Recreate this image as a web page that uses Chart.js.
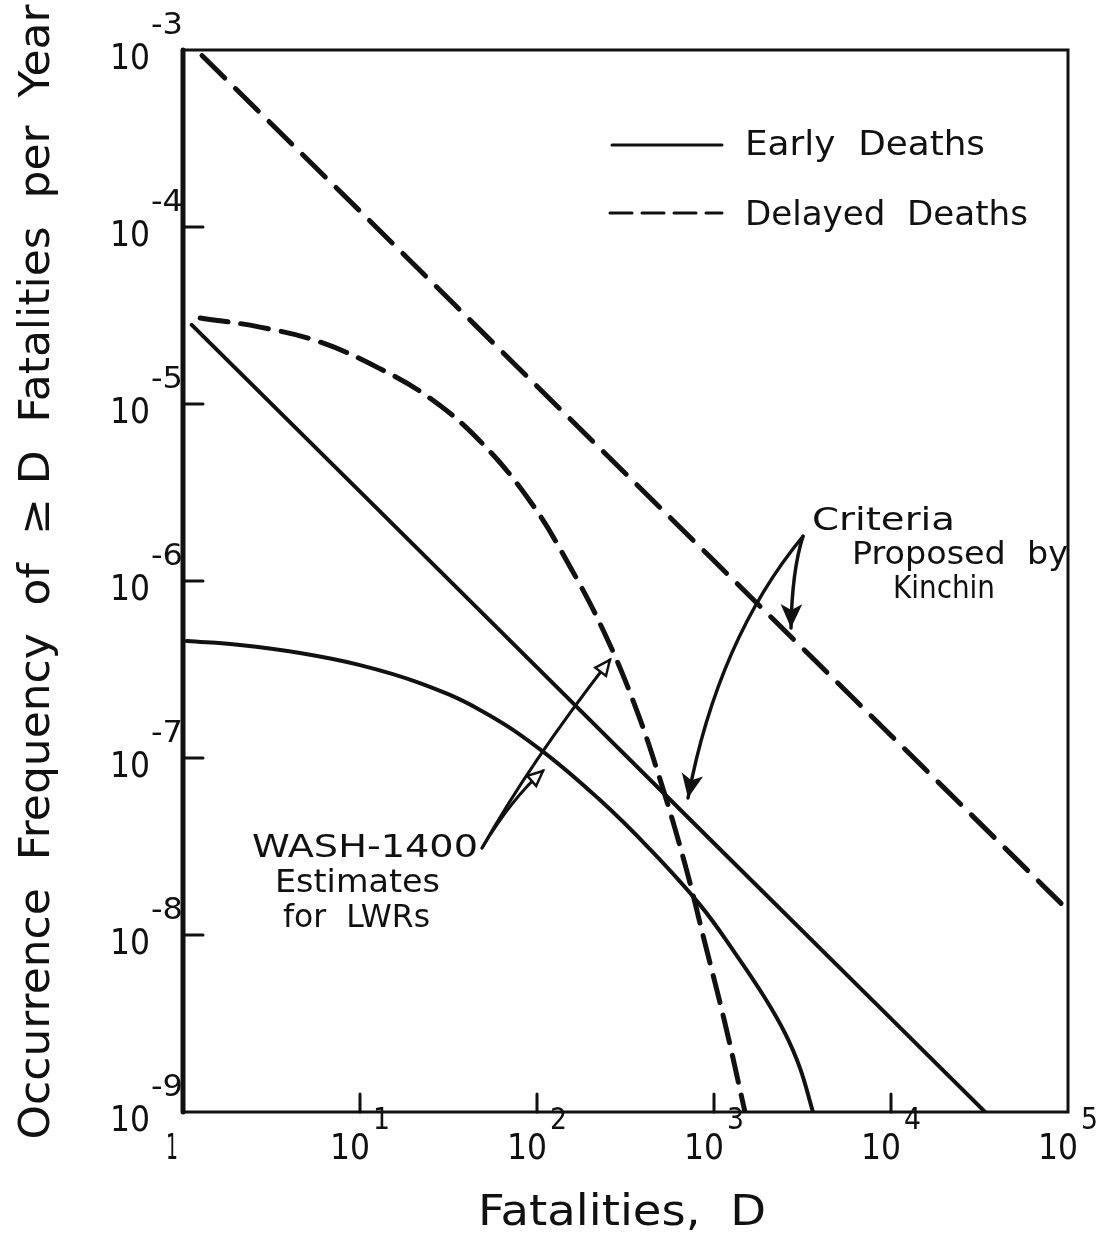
<!DOCTYPE html>
<html>
<head>
<meta charset="utf-8">
<script src="https://cdn.jsdelivr.net/npm/chart.js@4.4.1/dist/chart.umd.min.js"></script>
<style>
  html, body { margin: 0; padding: 0; background: #fff; }
  #wrap { width: 1102px; height: 1249px; position: relative; }
</style>
</head>
<body>
<div id="wrap"><canvas id="chartFatalities"></canvas></div>
<script>
// values: D = fatalities, F = frequency of >= D per year
const kinchinDelayedD = [1.28, 10, 100, 1000, 10000, 100000];
const kinchinDelayedF = [9.3e-4, 1.23e-4, 1.26e-5, 1.30e-6, 1.34e-7, 1.38e-8];

const kinchinEarlyD = [1.12, 10, 100, 1000, 10000, 34000];
const kinchinEarlyF = [2.8e-5, 3.2e-6, 3.25e-7, 3.3e-8, 3.37e-9, 1e-9];

const washDelayedD = [1.25, 2.72, 5.94, 13.0, 24.8, 47.6, 91.2, 154, 242, 358, 495, 685, 889, 1153, 1496];
const washDelayedF = [3.06e-5, 2.72e-5, 2.24e-5, 1.58e-5, 1.08e-5, 6.18e-6, 2.83e-6, 1.20e-6,
                      5.02e-7, 1.97e-7, 7.60e-8, 2.52e-8, 9.0e-9, 3.18e-9, 1e-9];

const washEarlyD = [1.05, 2.10, 4.58, 10.0, 21.8, 47.6, 104, 227, 434, 834, 1315, 1941, 2518, 3062, 3622];
const washEarlyF = [4.58e-7, 4.35e-7, 3.92e-7, 3.35e-7, 2.65e-7, 1.87e-7, 1.12e-7, 5.79e-8,
                    3.06e-8, 1.48e-8, 7.91e-9, 4.41e-9, 2.79e-9, 1.77e-9, 1e-9];

// tick labels are powers of ten
const xTickExp = [0, 1, 2, 3, 4, 5];
const yTickExp = [-3, -4, -5, -6, -7, -8, -9];

// arrows for the two notes, in data units: start, control, tip
const kinchinArrows = [
    [[3184, 1.79e-6], [2760, 1.15e-6], [2723, 5.42e-7]],
    [[3184, 1.79e-6], [1054, 4.70e-7], [713, 5.94e-8]]
];
const washArrows = [
    [[48.9, 3.10e-8], [72, 5.9e-8], [108, 8.45e-8]],
    [[48.9, 3.10e-8], [91.2, 9.38e-8], [258, 3.58e-7]]
];

const ink = '#111';
const FONT = '"DejaVu Sans", "Liberation Sans", sans-serif';
const toPts = (xs, ys) => xs.map((x, i) => ({ x: x, y: ys[i] }));

// draw text so that it fills a given width at a given letter size
function fitText(ctx, text, x, y, size, width, align) {
    ctx.save();
    ctx.font = size + 'px ' + FONT;
    const w = ctx.measureText(text).width;
    const k = width / w;
    ctx.textBaseline = 'middle';
    ctx.textAlign = 'left';
    let left = x;
    if (align === 'center') left = x - width / 2;
    if (align === 'right') left = x - width;
    ctx.translate(left, y);
    ctx.scale(k, 1);
    ctx.fillText(text, 0, 0);
    ctx.restore();
}

function drawArrow(ctx, xs, ys, arr, head, open) {
    const p = arr.map(a => [xs.getPixelForValue(a[0]), ys.getPixelForValue(a[1])]);
    ctx.beginPath();
    ctx.moveTo(p[0][0], p[0][1]);
    ctx.quadraticCurveTo(p[1][0], p[1][1], p[2][0], p[2][1]);
    ctx.stroke();
    const ang = Math.atan2(p[2][1] - p[1][1], p[2][0] - p[1][0]);
    ctx.save();
    ctx.translate(p[2][0], p[2][1]);
    ctx.rotate(ang);
    ctx.beginPath();
    ctx.moveTo(0, 0);
    ctx.lineTo(-head, -head * 0.45);
    if (!open) ctx.lineTo(-head * 0.75, 0);
    ctx.lineTo(-head, head * 0.45);
    ctx.closePath();
    if (open) {
        ctx.fillStyle = '#fff';
        ctx.fill();
        ctx.lineWidth = 2.5;
        ctx.stroke();
    } else {
        ctx.fill();
    }
    ctx.restore();
}

const figurePlugin = {
    id: 'figure',
    afterDraw(chart) {
        const ctx = chart.ctx;
        const a = chart.chartArea;
        const xs = chart.scales.x, ys = chart.scales.y;
        ctx.save();
        ctx.strokeStyle = ink;
        ctx.fillStyle = ink;
        ctx.lineCap = 'round';

        // frame, left side drawn heavier as in the print
        ctx.lineWidth = 3;
        ctx.strokeRect(a.left, a.top, a.right - a.left, a.bottom - a.top);
        ctx.lineWidth = 5;
        ctx.beginPath(); ctx.moveTo(a.left, a.top); ctx.lineTo(a.left, a.bottom); ctx.stroke();

        // inward ticks
        ctx.lineWidth = 3;
        yTickExp.forEach(e => {
            if (e === -3 || e === -9) return;
            const y = ys.getPixelForValue(Math.pow(10, e));
            ctx.beginPath(); ctx.moveTo(a.left, y); ctx.lineTo(a.left + 20, y); ctx.stroke();
        });
        xTickExp.forEach(e => {
            if (e === 0 || e === 5) return;
            const x = xs.getPixelForValue(Math.pow(10, e));
            ctx.beginPath(); ctx.moveTo(x, a.bottom); ctx.lineTo(x, a.bottom - 18); ctx.stroke();
        });

        // tick labels
        yTickExp.forEach(e => {
            const y = ys.getPixelForValue(Math.pow(10, e));
            fitText(ctx, '10', 150, y + 10, 36, 40, 'right');
            fitText(ctx, '-' + Math.abs(e), 151, y - 24, 30, 32, 'left');
        });
        xTickExp.forEach(e => {
            const x = xs.getPixelForValue(Math.pow(10, e));
            if (e === 0) {
                fitText(ctx, '1', x - 11, a.bottom + 38, 36, 12, 'center');
                return;
            }
            fitText(ctx, '10', x + 10, a.bottom + 38, 36, 40, 'right');
            fitText(ctx, String(e), x + 13, a.bottom + 9, 30, 17, 'left');
        });

        // axis titles
        fitText(ctx, 'Fatalities,  D', 622, 1214, 42, 288, 'center');
        ctx.save();
        ctx.translate(38, 572);
        ctx.rotate(-Math.PI / 2);
        fitText(ctx, 'Occurrence  Frequency  of  \u2265 D  Fatalities  per  Year', 0, 0, 42, 1135, 'center');
        ctx.restore();

        // legend
        ctx.lineWidth = 3;
        ctx.beginPath(); ctx.moveTo(612, 145); ctx.lineTo(722, 145); ctx.stroke();
        ctx.setLineDash([22, 10]);
        ctx.beginPath(); ctx.moveTo(610, 213); ctx.lineTo(722, 213); ctx.stroke();
        ctx.setLineDash([]);
        fitText(ctx, 'Early  Deaths', 745, 146, 34, 240, 'left');
        fitText(ctx, 'Delayed  Deaths', 745, 216, 34, 283, 'left');

        // notes
        fitText(ctx, 'Criteria', 812, 522, 32, 143, 'left');
        fitText(ctx, 'Proposed  by', 852, 556, 32, 216, 'left');
        fitText(ctx, 'Kinchin', 893, 590, 32, 102, 'left');
        fitText(ctx, 'WASH-1400', 252, 849, 32, 226, 'left');
        fitText(ctx, 'Estimates', 275, 884, 32, 165, 'left');
        fitText(ctx, 'for  LWRs', 283, 919, 32, 147, 'left');

        ctx.lineWidth = 3.5;
        kinchinArrows.forEach(arr => drawArrow(ctx, xs, ys, arr, 24, false));
        ctx.lineWidth = 3;
        washArrows.forEach(arr => drawArrow(ctx, xs, ys, arr, 15, true));
        ctx.restore();
    }
};

const logAxis = (min, max) => ({
    type: 'logarithmic', min: min, max: max, display: false,
    grid: { display: false }
});

new Chart(document.getElementById('chartFatalities'), {
    type: 'scatter',
    data: {
        datasets: [
            { label: 'Kinchin, delayed', data: toPts(kinchinDelayedD, kinchinDelayedF),
              borderDash: [32, 15], borderWidth: 5, tension: 0 },
            { label: 'Kinchin, early', data: toPts(kinchinEarlyD, kinchinEarlyF), tension: 0 },
            { label: 'WASH-1400, delayed', data: toPts(washDelayedD, washDelayedF),
              borderDash: [28, 13], borderWidth: 5, tension: 0.4 },
            { label: 'WASH-1400, early', data: toPts(washEarlyD, washEarlyF), tension: 0.4 }
        ].map(d => Object.assign({
            showLine: true, borderColor: ink, borderWidth: 4, pointRadius: 0,
            borderCapStyle: 'round', fill: false
        }, d))
    },
    options: {
        responsive: true,
        maintainAspectRatio: false,
        animation: false,
        layout: { padding: { left: 183, top: 50, right: 34, bottom: 137 } },
        plugins: { legend: { display: false }, tooltip: { enabled: false } },
        scales: {
            x: logAxis(1, 1e5),
            y: logAxis(1e-9, 1e-3)
        }
    },
    plugins: [figurePlugin]
});
</script>
</body>
</html>
